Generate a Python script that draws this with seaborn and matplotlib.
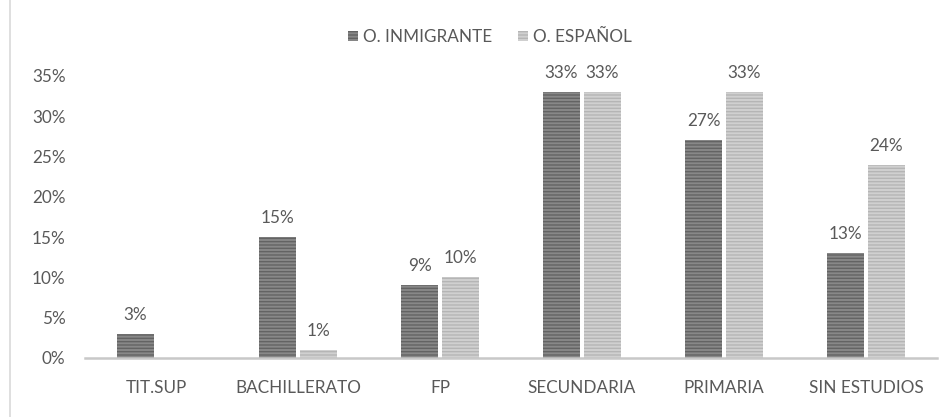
import pandas as pd
import matplotlib
matplotlib.use('Agg')
import matplotlib.pyplot as plt
import seaborn as sns
from matplotlib.patches import Patch
from matplotlib.lines import Line2D
from matplotlib.ticker import PercentFormatter

# Datos
niveles = ['TIT.SUP', 'BACHILLERATO', 'FP', 'SECUNDARIA', 'PRIMARIA', 'SIN ESTUDIOS']
inmigrante = [3, 15, 9, 33, 27, 13]
espanol = [0, 1, 10, 33, 33, 24]
series = ['O. INMIGRANTE', 'O. ESPAÑOL']

TEXT = '#595959'
BASE = {'O. INMIGRANTE': '#888888', 'O. ESPAÑOL': '#d0d0d0'}
STRIPE = {'O. INMIGRANTE': '#636363', 'O. ESPAÑOL': '#b5b5b5'}
FS = 12.3

df = pd.DataFrame({
    'nivel': niveles * 2,
    'valor': inmigrante + espanol,
    'serie': [series[0]] * len(niveles) + [series[1]] * len(niveles),
})

sns.set_theme(style='white')
plt.rcParams['font.family'] = ['Lato', 'DejaVu Sans']
plt.rcParams['hatch.linewidth'] = 1.0

fig = plt.figure(figsize=(9.52, 4.17), dpi=100)
ax = fig.add_axes([85 / 952, 59 / 417, 852 / 952, 282 / 417])

sns.barplot(data=df, x='nivel', y='valor', hue='serie', palette=BASE,
            width=0.576, gap=0.1, legend=False, ax=ax)

for cont, s in zip(ax.containers, series):
    for bar in cont:
        bar.set_hatch('-----')
        bar.set_edgecolor(STRIPE[s])
        bar.set_linewidth(0)
    labels = [f'{v:.0f}%' if v > 0 else '' for v in cont.datavalues]
    ax.bar_label(cont, labels=labels, padding=8, fontsize=FS, color=TEXT)

ax.set_ylim(0, 35)
ax.set_xlim(-0.5, 5.5)
ax.set_yticks(range(0, 36, 5))
ax.yaxis.set_major_formatter(PercentFormatter(decimals=0))
ax.set_xlabel('')
ax.set_ylabel('')
ax.tick_params(axis='y', length=0, pad=14, labelsize=FS, labelcolor=TEXT)
ax.tick_params(axis='x', length=0, pad=16, labelsize=FS, labelcolor=TEXT)
for side in ['top', 'right', 'left']:
    ax.spines[side].set_visible(False)
ax.spines['bottom'].set_color('#c8c8c8')
ax.spines['bottom'].set_linewidth(1.8)

handles = [Patch(facecolor=BASE[s], edgecolor=STRIPE[s], hatch='-----', linewidth=0, label=s)
           for s in series]
fig.legend(handles=handles, loc='center', bbox_to_anchor=(490 / 952, 1 - 37 / 417),
           ncol=2, frameon=False, fontsize=FS, labelcolor=TEXT,
           handlelength=0.6, handleheight=0.6, handletextpad=0.3, columnspacing=1.5)

# borde izquierdo del recuadro del gráfico
fig.add_artist(Line2D([10 / 952, 10 / 952], [0, 1], transform=fig.transFigure,
                      color='#d9d9d9', linewidth=1.2))

fig.savefig('out.png', dpi=100)
plt.close(fig)
